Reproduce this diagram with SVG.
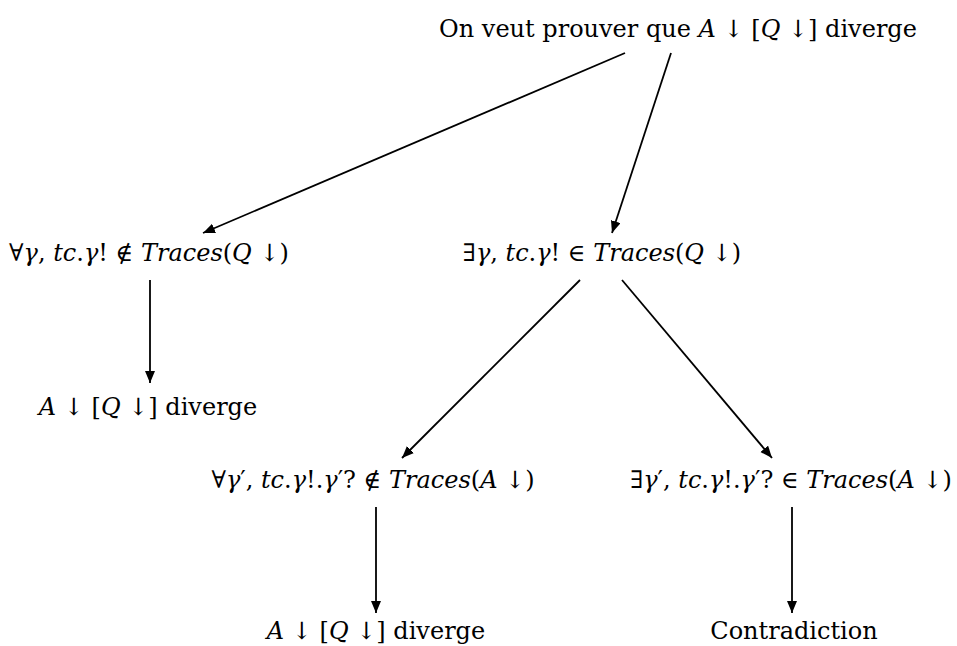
<svg xmlns="http://www.w3.org/2000/svg" width="957" height="646" viewBox="0 0 957 646">
<style>
text{font-family:"DejaVu Serif","Liberation Serif",serif;font-size:24px;fill:#000;text-anchor:middle}
.i{font-style:italic}
.c{stroke:#000;stroke-width:1.8;fill:none}
</style>
<defs>
<marker id="ah" markerUnits="userSpaceOnUse" markerWidth="13" markerHeight="11" refX="12" refY="5" orient="auto">
<path d="M0,0 L12,5 L0,10 z" fill="#000"/>
</marker>
</defs>
<rect width="957" height="646" fill="#fff"/>
<g id="connectors">
<line class="c" x1="625" y1="53" x2="203" y2="233" marker-end="url(#ah)"/>
<line class="c" x1="671" y1="53" x2="612" y2="233" marker-end="url(#ah)"/>
<line class="c" x1="150" y1="280" x2="150" y2="383" marker-end="url(#ah)"/>
<line class="c" x1="580" y1="280" x2="402" y2="458" marker-end="url(#ah)"/>
<line class="c" x1="622" y1="280" x2="772" y2="458" marker-end="url(#ah)"/>
<line class="c" x1="376" y1="507" x2="376" y2="613" marker-end="url(#ah)"/>
<line class="c" x1="792" y1="507" x2="792" y2="613" marker-end="url(#ah)"/>
</g>
<g id="n0"><text x="678" y="37">On veut prouver que <tspan class="i">A</tspan> ↓ [<tspan class="i">Q</tspan> ↓] diverge</text></g>
<g id="n1"><text x="149" y="261">∀<tspan class="i">γ</tspan>, <tspan class="i">tc</tspan>.<tspan class="i">γ</tspan>! ∉ <tspan class="i">Traces</tspan>(<tspan class="i">Q</tspan> ↓)</text></g>
<g id="n2"><text x="602" y="261">∃<tspan class="i">γ</tspan>, <tspan class="i">tc</tspan>.<tspan class="i">γ</tspan>! ∈ <tspan class="i">Traces</tspan>(<tspan class="i">Q</tspan> ↓)</text></g>
<g id="n3"><text x="148" y="415"><tspan class="i">A</tspan> ↓ [<tspan class="i">Q</tspan> ↓] diverge</text></g>
<g id="n4"><text x="373" y="488">∀<tspan class="i">γ</tspan>′, <tspan class="i">tc</tspan>.<tspan class="i">γ</tspan>!.<tspan class="i">γ</tspan>′? ∉ <tspan class="i">Traces</tspan>(<tspan class="i">A</tspan> ↓)</text></g>
<g id="n5"><text x="791" y="488">∃<tspan class="i">γ</tspan>′, <tspan class="i">tc</tspan>.<tspan class="i">γ</tspan>!.<tspan class="i">γ</tspan>′? ∈ <tspan class="i">Traces</tspan>(<tspan class="i">A</tspan> ↓)</text></g>
<g id="n6"><text x="376" y="639"><tspan class="i">A</tspan> ↓ [<tspan class="i">Q</tspan> ↓] diverge</text></g>
<g id="n7"><text x="794" y="639">Contradiction</text></g>
</svg>
